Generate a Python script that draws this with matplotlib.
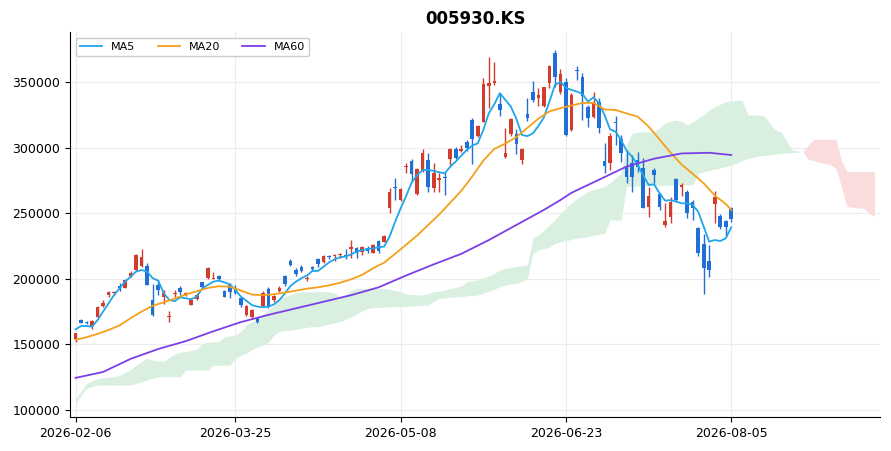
import matplotlib
matplotlib.use("Agg")
import matplotlib.pyplot as plt
import numpy as np

plt.rcParams["font.family"] = "DejaVu Sans"

# price data (thousand KRW)
opens = [154, 168.6, 167.3, 164, 170.6, 179.5, 187.7, 188.8, 194.8, 193.3,
         202.4, 206.7, 209.8, 209.8, 183.9, 195.3, 185.9, 171, 188.5, 193.3,
         188.2, 180.1, 184.3, 197.3, 200.4, 199.9, 202.1, 190.7, 195.3, 192.7,
         185.1, 172.4, 171.1, 170.4, 179.3, 192, 183.8, 190.7, 202.1, 213.6,
         206.7, 208.7, 199.6, 208.7, 215.1, 212.5, 216.9, 217.6, 217.9, 218.1,
         222.7, 223.7, 220.7, 223.7, 219.9, 228.8, 228.3, 253.7, 270, 260.1,
         285, 289.8, 264.4, 282.9, 290.5, 269.4, 275.3, 277.8, 291, 299,
         297.4, 304.5, 321, 309.1, 319.8, 347, 349.5, 333, 293.1, 310.1,
         310.1, 290.5, 325.4, 342.6, 338, 331.7, 349.5, 372.3, 342.6, 350,
         313.4, 359.4, 354, 331.2, 323.6, 335, 289.8, 288.5, 319.5, 306.3,
         286, 288.5, 290.5, 284.7, 255, 282.9, 264.6, 241, 247.3, 275.8,
         270.2, 266.4, 258.8, 238.4, 226.5, 213.8, 257, 247.8, 244, 253.7]
highs = [159, 169, 168, 168.5, 179.3, 183.9, 191, 190.7, 197, 199.6,
         205.7, 218.9, 222.5, 211.8, 195.8, 199.1, 191.5, 175.7, 191.5, 194.5,
         190.2, 185.1, 189, 197.8, 208.7, 205.4, 202.9, 191.5, 196.5, 195.3,
         186.4, 180, 176.7, 171.1, 190.7, 193.5, 187.7, 194.5, 202.9, 214.8,
         208, 210.5, 202.1, 210, 215.6, 218.1, 218.1, 218.6, 219.4, 222.5,
         229.6, 224.5, 225, 225, 226.5, 229.6, 233.4, 269, 277, 269,
         288, 291, 284.2, 298.7, 295.6, 288, 280.4, 281.6, 299.4, 300.7,
         302, 305.8, 322.8, 317.2, 353.3, 369.3, 365, 341.4, 314.7, 322.3,
         313.9, 299.4, 338, 351, 345, 346.4, 362.9, 374.4, 360, 352.8,
         341.4, 362.2, 356.6, 332.4, 342.6, 337.5, 303.2, 311.4, 324, 309.6,
         298.1, 294.3, 296.9, 291.8, 270.2, 284.2, 265.1, 257.5, 262.6, 276.6,
         272.7, 267.7, 260, 239.2, 234.1, 225.7, 267.1, 249.4, 244.8, 254.4]
lows = [152, 166, 165.5, 161.5, 169.9, 178.8, 186.4, 187.7, 191, 192.8,
        201.1, 206, 209.3, 195, 171.7, 187.7, 180.8, 166.8, 186.4, 187.7,
        186.9, 180, 183.8, 192.7, 199.8, 199.6, 199.1, 185.9, 185.1, 188.5,
        178.8, 171.6, 170.4, 166.6, 178.3, 177.5, 182.6, 189.7, 194.8, 209.8,
        202.1, 204.9, 198.3, 206.2, 209.2, 211.8, 214.8, 213.6, 215.6, 214.8,
        215.6, 215.6, 218.1, 219.9, 219.4, 219.9, 228, 250.4, 260, 259.3,
        280.4, 274, 263.9, 281.6, 266.4, 266.4, 266.4, 263.9, 286.7, 291,
        296.9, 297.4, 287.2, 308.3, 319.3, 330, 347.7, 324.3, 291.8, 309.1,
        294.9, 287.2, 320.3, 335, 332, 331, 345.1, 345.9, 341, 308.8,
        312.9, 351.5, 321, 315.4, 322.3, 310.9, 280.9, 282.9, 302, 289.3,
        272.7, 266.4, 281.6, 253.7, 247.3, 272.7, 252.4, 239.2, 242.2, 259.5,
        263.1, 246, 244.8, 217.3, 188.4, 201.6, 242.2, 237.7, 232.6, 243.5]
closes = [158.5, 166.6, 166, 167.8, 178.8, 181.3, 190.2, 190.2, 192.8, 199.1,
          204.2, 218.2, 216.4, 195.6, 172.4, 191.5, 188.9, 172, 189.5, 189.7,
          189.4, 183.9, 187.7, 193.5, 208, 200.6, 199.6, 186.4, 190.2, 188.9,
          180, 179.3, 176.2, 167.3, 189.4, 178.8, 186.9, 193.2, 196, 210.5,
          203.7, 205.9, 200.6, 207.2, 211, 217.4, 216.4, 218.1, 218.7, 216.9,
          224.5, 219.9, 224.5, 221.2, 225.8, 221.2, 232.6, 266.4, 269, 268.4,
          286, 279.6, 283.7, 295.6, 270.2, 280.9, 276.6, 276.6, 299, 292.3,
          298.9, 299.4, 306.5, 316.5, 348.2, 349, 350.5, 328.7, 295.6, 321.8,
          302.5, 298.9, 322.8, 336.2, 340, 346.4, 362.2, 354, 356, 309.6,
          340.1, 358.5, 339.3, 322.3, 335, 314.7, 286, 308.8, 318.5, 296.1,
          277.8, 277.8, 284.9, 254.2, 263.1, 279.1, 255, 244, 258.8, 260,
          271.2, 250.4, 254.2, 219.4, 208, 206.7, 262.6, 239.2, 239.7, 245.3]

ma5 = [161.5, 164, 164, 163.5, 168.6, 175, 181.3, 187.7, 192.8, 197.8,
       201.6, 205.5, 206.7, 205.5, 200.4, 198.6, 189, 183.9, 183, 185.9,
       185.1, 184.4, 186.4, 192.7, 195.3, 197.8, 198.6, 197.3, 195.8, 191.5,
       186.4, 183.3, 180, 178.8, 178.3, 178.8, 180.5, 183.8, 188.9, 194.5,
       197.8, 200.4, 202.5, 206, 206, 209.2, 212.5, 214.8, 216.4, 216.9,
       218.6, 220.7, 221.9, 222.7, 223.2, 224, 224.5, 232.1, 243.5, 253.7,
       263.1, 273.3, 279, 282.9, 282.9, 282.2, 281.1, 280.4, 285.4, 289.3,
       293.8, 298.2, 301.5, 303.2, 313.4, 326.1, 333, 341.4, 336.3, 331.2,
       321.8, 309.6, 308.7, 310.8, 316.4, 323, 335, 347.7, 350, 345.5,
       343.9, 342.6, 340.8, 335, 338.3, 333.7, 324.8, 313.9, 312.1, 305.8,
       297.6, 293.1, 286.7, 279.1, 271.5, 272, 265.1, 259.5, 260, 258.8,
       257.5, 257.5, 256.2, 251.1, 239.7, 228.3, 229.5, 228.8, 230.8, 239.2]

ma20_idx = [0, 2, 4, 6, 8, 10, 12, 14, 16, 18, 20, 22, 24, 26, 28, 30, 32, 34,
            36, 38, 40, 42, 44, 46, 48, 50, 52, 54, 56, 58, 60, 62, 64, 66, 68,
            70, 72, 74, 76, 78, 80, 82, 84, 86, 88, 90, 92, 94, 96, 98, 100,
            102, 104, 106, 108, 110, 112, 114, 116, 118, 119]
ma20 = [153.5, 155.5, 158, 161, 164.5, 170, 175, 179.5, 182, 185, 188, 190.5,
        193, 194.3, 194, 191, 188, 187.5, 188.2, 189.5, 191, 192.5, 193.5, 195,
        197, 199.6, 203, 208, 212.3, 219, 226, 233, 241, 249, 258,
        267, 278, 290, 299, 303, 308, 315, 322, 327.5, 330, 332, 334, 334, 329,
        328.6, 326, 323.6, 316, 306, 296, 287, 280, 272.7, 263.5, 257, 252.5]

ma60_idx = [0, 5, 10, 15, 20, 25, 30, 35, 40, 45, 50, 55, 60, 65, 70, 75, 80,
            85, 88, 90, 95, 100, 105, 110, 115, 119]
ma60 = [124.5, 129, 139, 146.5, 152.5, 160, 167, 172.5, 177.5, 182.5, 187.5,
        193.5, 202.5, 211, 219, 229.5, 241, 252.5, 260, 265.5, 275.5, 285.5,
        291.5, 295.5, 296, 294.3]

# ichimoku spans (shifted 26 periods ahead)
span_a = [108.8, 114, 120.3, 122, 124.1, 124.5, 125, 125.4, 126.5, 128.5,
          131, 134, 137, 139.3, 138, 137.3, 137.3, 140, 142.5, 144,
          144.5, 145.5, 146, 150.8, 151.5, 152, 152, 155.9, 156.5, 157.1,
          160, 164.7, 167, 169.8, 173, 176, 180, 184, 186.5, 188,
          189.5, 190.1, 190.1, 190.1, 190.2, 190.2, 190.2, 189, 186.4, 188,
          191, 192.7, 192.7, 192.7, 192.7, 192.7, 192.7, 192, 191, 190.2,
          188.4, 188, 187.7, 187.7, 188.5, 190.2, 190.5, 191.5, 192.5, 193.5,
          194.5, 197.8, 198.5, 199.1, 200.5, 202.2, 204, 206.7, 208, 208.5,
          209.3, 210, 210.5, 230.9, 233.4, 237, 241, 245, 250, 253.7,
          258, 261, 263.5, 266.4, 268, 269, 270.2, 273, 277, 280.4,
          302, 310.9, 311.5, 312, 312, 312.1, 315, 318.5, 320, 321,
          319.8, 317.2, 319.5, 322.3, 325, 328.7, 331, 333, 335, 335.5,
          335.8, 335.8, 324.8, 324.8, 324.5, 324.1, 318, 313.4, 312.1, 305,
          298.2, 297.5, 297, 291, 290, 288.5, 288, 287, 284, 270,
          255, 254.5, 254, 253.7, 250, 247.3]
span_b = [105, 111, 116.5, 118, 119, 119, 119, 119, 119, 119,
          119, 120.3, 121.5, 123, 124.1, 125.4, 125.4, 125.4, 125.4, 125.4,
          130.4, 130.4, 130.4, 130.4, 130.4, 134.2, 134.2, 134.2, 134.2, 139.3,
          141.5, 143.5, 146, 148, 149.5, 151.5, 157, 160, 160.5, 160.9,
          161.5, 162.2, 163, 163.5, 163.5, 164.5, 165.5, 166.5, 167.3, 169,
          171, 173, 175.5, 177.5, 178, 178.2, 178.5, 178.6, 178.7, 178.8,
          179, 179.3, 179.6, 179.8, 180, 183, 185.1, 185.5, 186, 186.2,
          186.4, 187, 187.3, 187.7, 189, 190.5, 192, 194, 195.3, 196,
          196.6, 198, 200.4, 219.4, 222, 223, 224, 227, 228, 229,
          230, 231, 231.5, 232, 233, 234, 234.6, 244.8, 244.8, 244.8,
          270.2, 270.5, 270.8, 271, 271, 271, 271.2, 271.3, 271.4, 271.5,
          271.5, 271.5, 271.5, 280.4, 281.5, 282.5, 283.5, 284.5, 285.5, 286.7,
          288, 290, 291.8, 292.5, 293.5, 294, 294.3, 295, 295.5, 296,
          296.1, 296.5, 297, 302, 306.3, 306.3, 306.3, 306.3, 306.3, 290,
          281.6, 281.6, 281.6, 281.6, 281.6, 281.6]

tick_labels = ["2026-02-06", "2026-03-25", "2026-05-08", "2026-06-23", "2026-08-05"]

UP = "#d23c2c"
DOWN = "#1f6fd6"

o = np.array(opens) * 1000
h = np.array(highs) * 1000
l = np.array(lows) * 1000
c = np.array(closes) * 1000
a = np.array(span_a) * 1000
b = np.array(span_b) * 1000
x = np.arange(len(o))
xc = np.arange(len(a))

fig = plt.figure(figsize=(8.91, 4.51), dpi=100)
ax = fig.add_axes([0.0786, 0.0754, 0.9091, 0.8536])

# cloud
ax.fill_between(xc, a, b, where=a >= b, interpolate=True, color="#d9efdf", lw=0, zorder=1)
ax.fill_between(xc, a, b, where=a < b, interpolate=True, color="#fbdcdc", lw=0, zorder=1)

# candles
colors = np.where(c >= o, UP, DOWN)
ax.vlines(x, l, h, colors=colors, lw=1.0, zorder=2)
body = np.maximum(np.abs(c - o), 700)
ax.bar(x, body, width=0.65, bottom=np.minimum(o, c), color=colors, lw=0, zorder=2)

# moving averages
ax.plot(x, np.array(ma5) * 1000, color="#1ea5ea", lw=1.3, label="MA5", zorder=3)
ax.plot(ma20_idx, np.array(ma20) * 1000, color="#f5a01a", lw=1.3, label="MA20", zorder=3)
ax.plot(ma60_idx, np.array(ma60) * 1000, color="#7b3fe8", lw=1.3, label="MA60", zorder=3)

ticks = np.linspace(0, len(o) - 1, 5).astype(int)
ax.set_xticks(ticks)
ax.set_xticklabels(tick_labels, fontsize=9)
ax.tick_params(axis="y", labelsize=9)
ax.set_xlim(-1, 146)
ax.set_ylim(94700, 388000)
ax.grid(True, color="#ebebf0", lw=0.8, zorder=0)
ax.set_axisbelow(True)
for s in ["top", "right"]:
    ax.spines[s].set_visible(False)

ax.legend(loc="upper left", ncol=3, fontsize=8, framealpha=1)
ax.set_title("005930.KS", fontsize=12, fontweight="bold")

fig.savefig("out.png", dpi=100)
